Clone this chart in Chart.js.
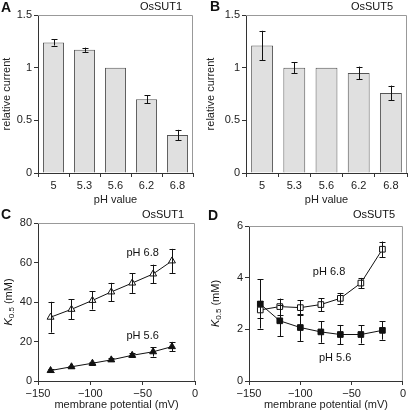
<!DOCTYPE html>
<html>
<head>
<meta charset="utf-8">
<script src="https://cdn.jsdelivr.net/npm/chart.js@4"></script>
<style>
  body { margin: 0; background: #fff; }
  #wrap { position: relative; width: 408px; height: 416px; }
  .panel { position: absolute; width: 204px; height: 208px; }
</style>
</head>
<body>
<div id="wrap">
  <div class="panel" style="left:0;top:0"><canvas id="chartA" width="204" height="208"></canvas></div>
  <div class="panel" style="left:204px;top:0"><canvas id="chartB" width="204" height="208"></canvas></div>
  <div class="panel" style="left:0;top:208px"><canvas id="chartC" width="204" height="208"></canvas></div>
  <div class="panel" style="left:204px;top:208px"><canvas id="chartD" width="204" height="208"></canvas></div>
</div>
<script>
// bar panels (A, B)
const phLabels = ['5', '5.3', '5.6', '6.2', '6.8'];
const sut1Current = [1.24, 1.17, 1.0, 0.70, 0.36];
const sut1CurrentErr = [0.03, 0.02, 0, 0.04, 0.05];
const sut5Current = [1.21, 1.00, 1.0, 0.95, 0.76];
const sut5CurrentErr = [0.14, 0.05, 0, 0.06, 0.07];

// K0.5 panels (C, D)
const potentialC = [-138, -118, -98, -80, -60, -40, -22];
const sut1K68 = [32.3, 36.3, 40.8, 45.1, 49.6, 54.2, 60.8];
const sut1K68Err = [7.8, 5.0, 4.6, 4.6, 5.0, 4.7, 6.1];
const sut1K56 = [5.3, 7.2, 9.0, 10.7, 13.0, 14.8, 17.4];
const sut1K56Err = [0.6, 0.6, 0.8, 0.8, 1.0, 2.4, 2.4];

const potentialD = [-139, -120, -100, -80, -61, -41, -20];
const sut5K68 = [2.75, 2.88, 2.84, 2.96, 3.20, 3.79, 5.10];
const sut5K68Err = [0.33, 0.31, 0.28, 0.25, 0.21, 0.20, 0.30];
const sut5K56 = [2.98, 2.33, 2.07, 1.90, 1.80, 1.80, 1.96];
const sut5K56Err = [0.95, 0.60, 0.52, 0.42, 0.37, 0.35, 0.36];

Chart.defaults.font.family = "'Liberation Sans', Arial, sans-serif";
Chart.defaults.font.size = 11;
Chart.defaults.color = '#222';
Chart.defaults.animation = false;

const AXIS = '#333';
const FRAME = '#999';

const toXY = (xs, ys) => xs.map((x, i) => ({ x, y: ys[i] }));
const minus = (v) => String(v).replace('-', '\u2212');
const plain = (v) => String(+Number(v).toFixed(2));

// error bars, grey top/right frame, panel letter/title, labels
const decorations = {
  id: 'decorations',
  beforeDatasetsDraw(chart) {
    const { ctx, chartArea: a } = chart;
    ctx.save();
    ctx.strokeStyle = FRAME;
    ctx.lineWidth = 1;
    ctx.beginPath();
    ctx.moveTo(a.left, a.top + 0.5);
    ctx.lineTo(a.right - 0.5, a.top + 0.5);
    ctx.lineTo(a.right - 0.5, a.bottom);
    ctx.stroke();
    ctx.restore();
  },
  afterDatasetsDraw(chart, args, opts) {
    const { ctx } = chart;
    const yScale = chart.scales.y;
    ctx.save();
    ctx.strokeStyle = '#111';
    ctx.lineWidth = 1;
    chart.data.datasets.forEach((ds, di) => {
      if (!ds.errors) return;
      const meta = chart.getDatasetMeta(di);
      meta.data.forEach((el, i) => {
        const err = ds.errors[i];
        if (!err) return;
        const v = typeof ds.data[i] === 'object' ? ds.data[i].y : ds.data[i];
        const x = Math.round(el.x) + 0.5;
        const yHi = yScale.getPixelForValue(v + err);
        const yLo = yScale.getPixelForValue(v - err);
        ctx.beginPath();
        ctx.moveTo(x, yHi); ctx.lineTo(x, yLo);
        ctx.moveTo(x - 3, Math.round(yHi) + 0.5); ctx.lineTo(x + 3, Math.round(yHi) + 0.5);
        ctx.moveTo(x - 3, Math.round(yLo) + 0.5); ctx.lineTo(x + 3, Math.round(yLo) + 0.5);
        ctx.stroke();
      });
    });
    ctx.restore();
  },
  afterDraw(chart, args, opts) {
    const { ctx, chartArea: a } = chart;
    ctx.save();
    ctx.fillStyle = '#111';
    ctx.textBaseline = 'middle';
    ctx.font = "bold 14px 'Liberation Sans', Arial, sans-serif";
    ctx.textAlign = 'left';
    ctx.fillText(opts.letter, opts.letterX, opts.letterY);
    ctx.font = "11px 'Liberation Sans', Arial, sans-serif";
    ctx.textAlign = 'center';
    ctx.fillText(opts.title, opts.titleX, opts.titleY);
    (opts.notes || []).forEach(n => {
      ctx.fillText(n.text, chart.scales.x.getPixelForValue(n.x), chart.scales.y.getPixelForValue(n.y));
    });
    if (opts.kTitle) {
      // K0.5 (mM), italic K with subscript
      ctx.translate(opts.kTitleX, (a.top + a.bottom) / 2);
      ctx.rotate(-Math.PI / 2);
      ctx.textAlign = 'left';
      const big = "11px 'Liberation Sans', Arial, sans-serif";
      const it = "italic 11px 'Liberation Sans', Arial, sans-serif";
      const sm = "8px 'Liberation Sans', Arial, sans-serif";
      ctx.font = it; const w1 = ctx.measureText('K').width;
      ctx.font = sm; const w2 = ctx.measureText('0.5').width;
      ctx.font = big; const w3 = ctx.measureText(' (mM)').width;
      let x = -(w1 + w2 + w3) / 2;
      ctx.font = it; ctx.fillText('K', x, 0); x += w1;
      ctx.font = sm; ctx.fillText('0.5', x, 3); x += w2;
      ctx.font = big; ctx.fillText(' (mM)', x, 0);
    }
    ctx.restore();
  }
};

function barChart(id, values, errors, axisW, pad, letter) {
  return new Chart(document.getElementById(id), {
    type: 'bar',
    data: {
      labels: phLabels,
      datasets: [{
        data: values,
        errors: errors,
        backgroundColor: '#e0e0e0',
        borderColor: '#555',
        borderWidth: 1,
        categoryPercentage: 1,
        barPercentage: 0.68
      }]
    },
    options: {
      responsive: false,
      layout: { padding: pad },
      plugins: {
        legend: { display: false },
        tooltip: { enabled: false },
        decorations: letter
      },
      scales: {
        x: {
          afterFit: (s) => { s.height = 35; },
          grid: { drawOnChartArea: false, tickLength: 4, color: AXIS },
          border: { color: AXIS },
          ticks: { padding: 2, color: '#222' },
          title: { display: true, text: 'pH value', padding: { top: 0, bottom: 1 }, color: '#222' }
        },
        y: {
          min: 0, max: 1.5,
          afterFit: (s) => { s.width = axisW; },
          grid: { drawOnChartArea: false, tickLength: 4, color: AXIS },
          border: { color: AXIS },
          ticks: { stepSize: 0.5, padding: 2, color: '#222', callback: plain },
          title: { display: true, text: 'relative current', padding: { top: 0, bottom: 0 }, color: '#222' }
        }
      }
    },
    plugins: [decorations]
  });
}

function lineChart(id, xs, sets, yMax, yStep, axisW, pad, deco) {
  return new Chart(document.getElementById(id), {
    type: 'scatter',
    data: {
      datasets: sets.map(s => ({
        data: toXY(xs, s.values),
        errors: s.errors,
        showLine: true,
        borderColor: '#111',
        borderWidth: 1,
        pointStyle: s.style,
        pointRadius: s.radius,
        pointBackgroundColor: s.filled ? '#111' : '#fff',
        pointBorderColor: '#111',
        pointBorderWidth: 1
      }))
    },
    options: {
      responsive: false,
      layout: { padding: pad },
      plugins: {
        legend: { display: false },
        tooltip: { enabled: false },
        decorations: deco
      },
      scales: {
        x: {
          type: 'linear', min: -150, max: 0,
          afterFit: (s) => { s.height = 35; },
          grid: { drawOnChartArea: false, tickLength: 4, color: AXIS },
          border: { color: AXIS },
          ticks: { stepSize: 50, padding: 2, color: '#222', callback: (v) => minus(v) },
          title: { display: true, text: 'membrane potential (mV)', padding: { top: 0, bottom: 4 }, color: '#222' }
        },
        y: {
          min: 0, max: yMax,
          afterFit: (s) => { s.width = axisW; },
          grid: { drawOnChartArea: false, tickLength: 4, color: AXIS },
          border: { color: AXIS },
          ticks: { stepSize: yStep, padding: 2, color: '#222', callback: plain }
        }
      }
    },
    plugins: [decorations]
  });
}

barChart('chartA', sut1Current, sut1CurrentErr, 38, { top: 15, right: 11 },
  { letter: 'A', letterX: 1, letterY: 8, title: 'OsSUT1', titleX: 161, titleY: 7 });
barChart('chartB', sut5Current, sut5CurrentErr, 42, { top: 15, right: 1 },
  { letter: 'B', letterX: 6, letterY: 7, title: 'OsSUT5', titleX: 168, titleY: 7 });

lineChart('chartC', potentialC, [
  { values: sut1K68, errors: sut1K68Err, style: 'triangle', radius: 4, filled: false },
  { values: sut1K56, errors: sut1K56Err, style: 'triangle', radius: 4, filled: true }
], 80, 20, 38, { top: 15, right: 9 },
  { letter: 'C', letterX: 1, letterY: 7, title: 'OsSUT1', titleX: 163, titleY: 7,
    kTitle: true, kTitleX: 9,
    notes: [{ text: 'pH 6.8', x: -50, y: 65 }, { text: 'pH 5.6', x: -50, y: 23 }] });

lineChart('chartD', potentialD, [
  { values: sut5K68, errors: sut5K68Err, style: 'rect', radius: 4, filled: false },
  { values: sut5K56, errors: sut5K56Err, style: 'rect', radius: 4, filled: true }
], 6, 2, 45, { top: 18, right: 3 },
  { letter: 'D', letterX: 4, letterY: 8, title: 'OsSUT5', titleX: 170, titleY: 7,
    kTitle: true, kTitleX: 12,
    notes: [{ text: 'pH 6.8', x: -72, y: 4.23 }, { text: 'pH 5.6', x: -66, y: 0.9 }] });
</script>
</body>
</html>
